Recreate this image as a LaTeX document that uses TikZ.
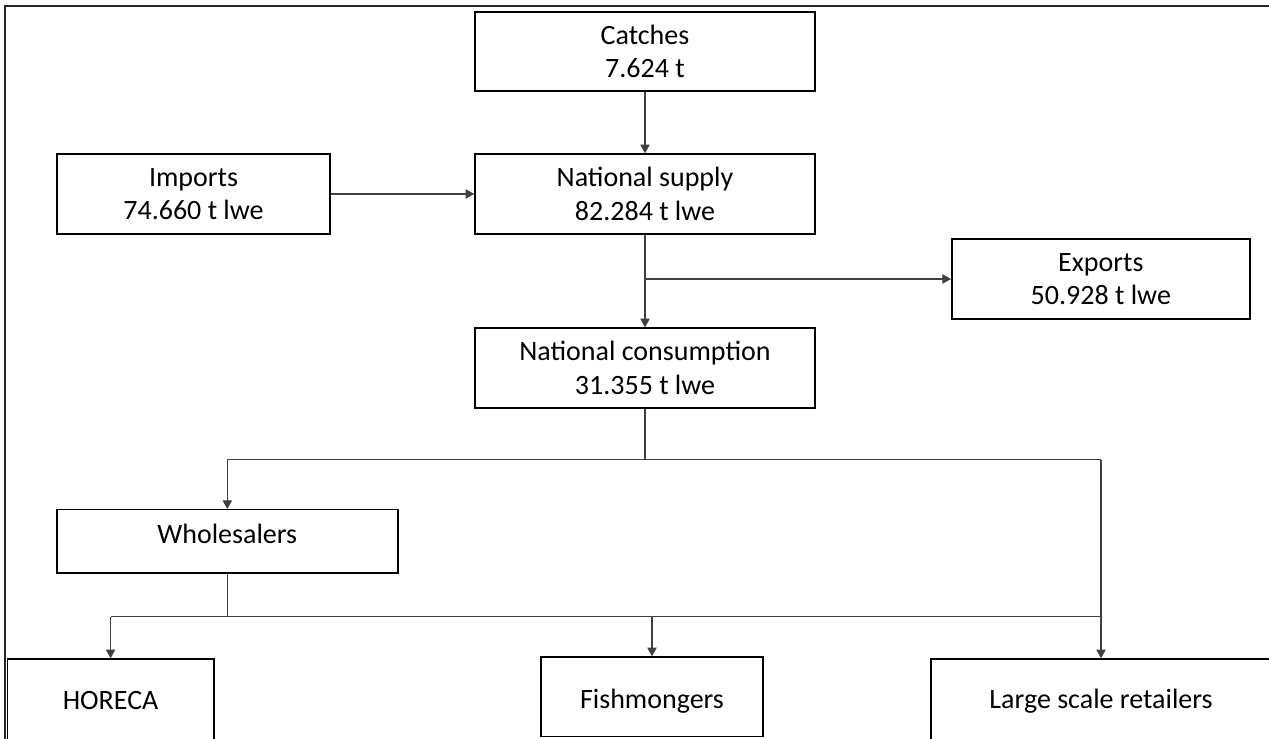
\documentclass[tikz,border=0pt]{standalone}
\usepackage{fontspec}
\setmainfont{Carlito}
\usetikzlibrary{arrows.meta,calc}
\newdimen\pxu \pxu=0.75pt
\begin{document}
\begin{tikzpicture}[x=0.75pt,y=-0.75pt,
  box/.style={draw=black,line width=1.1pt,fill=white,inner sep=0pt,align=center,
    font=\fontsize{21pt}{25pt}\selectfont},
  conn/.style={draw=black!75,line width=0.8pt},
  arr/.style={conn,-{Triangle[width=7pt,length=6.5pt]}}]
\useasboundingbox (0,0) rectangle (1269,738);
\begin{scope}
\clip (0,0) rectangle (1269,738);
% frame
\draw[line width=1.6pt,black!85] (4.9,800) -- (4.9,6) -- (1300,6);
% boxes
\node[box,minimum width=340\pxu,minimum height=79\pxu] (catches) at (645,51.5) {Catches\\7.624 t};
\node[box,minimum width=340\pxu,minimum height=80\pxu] (supply) at (645,194) {National supply\\82.284 t lwe};
\node[box,minimum width=273\pxu,minimum height=80\pxu] (imports) at (193.5,194) {Imports\\74.660 t lwe};
\node[box,minimum width=298\pxu,minimum height=80\pxu] (exports) at (1100.8,279) {Exports\\50.928 t lwe};
\node[box,minimum width=340\pxu,minimum height=80\pxu] (consumption) at (645,368) {National consumption\\31.355 t lwe};
\node[box,minimum width=341\pxu,minimum height=63.3\pxu,text depth=12pt] (wholesalers) at (227.3,541.4) {Wholesalers};
\node[box,minimum width=206.7\pxu,minimum height=84\pxu] (horeca) at (110.6,701) {HORECA};
\node[box,minimum width=222.3\pxu,minimum height=79.7\pxu,text height=17.5pt,text depth=0pt] (fish) at (652,696.9) {Fishmongers};
\node[box,minimum width=340\pxu,minimum height=84\pxu] (large) at (1101,701) {Large scale retailers};
% connectors
\draw[arr] (catches.south) -- (supply.north);
\draw[arr] (imports.east) -- (supply.west);
\draw[arr] (supply.south) -- (consumption.north);
\coordinate (b1) at (supply.south |- exports.west);
\draw[arr] (b1) -- (exports.west);
\coordinate (b2) at ($(consumption.south)+(0,51)$);
\draw[conn] (consumption.south) -- (b2);
\draw[conn] (wholesalers.north |- b2) -- (large.north |- b2);
\draw[arr] (wholesalers.north |- b2) -- (wholesalers.north);
\draw[arr] (large.north |- b2) -- (large.north);
\coordinate (b3) at ($(wholesalers.south)+(0,43)$);
\draw[conn] (wholesalers.south) -- (b3);
\draw[conn] (horeca.north |- b3) -- (large.north |- b3);
\draw[arr] (horeca.north |- b3) -- (horeca.north);
\draw[arr] (fish.north |- b3) -- (fish.north);
\end{scope}
\end{tikzpicture}
\end{document}
